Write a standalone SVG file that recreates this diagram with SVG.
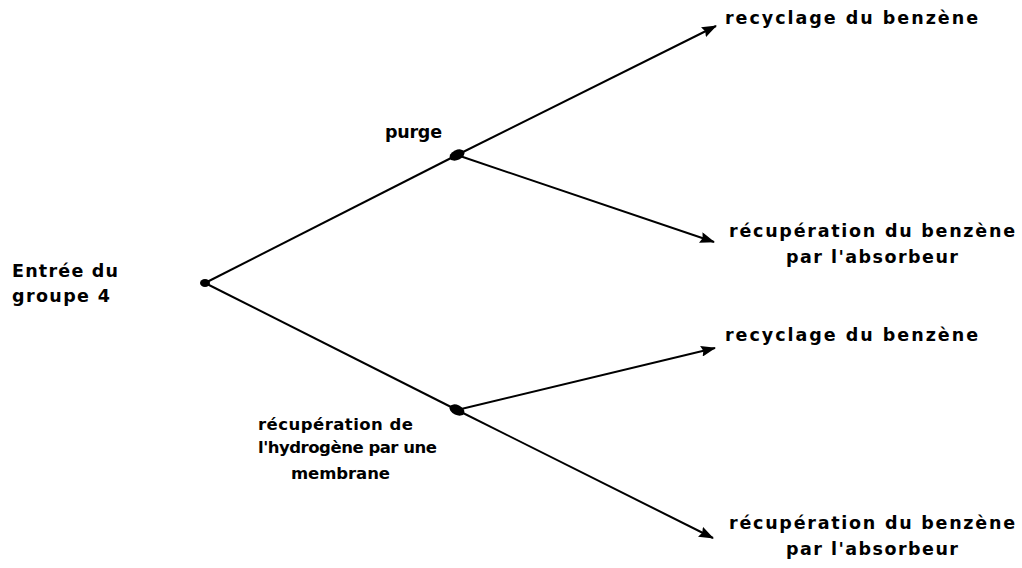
<svg xmlns="http://www.w3.org/2000/svg" width="1022" height="568" viewBox="0 0 1022 568">
<defs>
<style>
.t{font-family:"DejaVu Sans","Liberation Sans",sans-serif;font-weight:bold;font-size:17.5px;fill:#000}
.s{font-size:16.5px}
.c{stroke:#000;stroke-width:2;fill:none}
</style>
<marker id="ah" markerWidth="15" markerHeight="11" refX="14" refY="5.5" orient="auto" markerUnits="userSpaceOnUse">
<path d="M0,0 L15,5.5 L0,11 L2,5.5 Z" fill="#000"/>
</marker>
</defs>
<rect width="1022" height="568" fill="#fff"/>
<g id="connectors">
<line class="c" x1="205" y1="283" x2="457" y2="155"/>
<line class="c" x1="205" y1="283" x2="457" y2="410"/>
<line class="c" x1="457" y1="155" x2="716" y2="26" marker-end="url(#ah)"/>
<line class="c" x1="457" y1="155" x2="714" y2="242" marker-end="url(#ah)"/>
<line class="c" x1="457" y1="410" x2="715" y2="348" marker-end="url(#ah)"/>
<line class="c" x1="457" y1="410" x2="713" y2="538" marker-end="url(#ah)"/>
</g>
<g id="root">
<ellipse cx="205" cy="283" rx="5" ry="4" fill="#000"/>
<text class="t" x="12" y="277" textLength="106" lengthAdjust="spacing">Entrée du</text>
<text class="t" x="12" y="302" textLength="98" lengthAdjust="spacing">groupe 4</text>
</g>
<g id="purge">
<ellipse cx="457" cy="155" rx="8" ry="5" transform="rotate(-25 457 155)" fill="#000"/>
<text class="t" x="385" y="138" textLength="57" lengthAdjust="spacing">purge</text>
</g>
<g id="membrane">
<ellipse cx="457" cy="410" rx="8" ry="5" transform="rotate(25 457 410)" fill="#000"/>
<text class="t s" x="258" y="430" textLength="155" lengthAdjust="spacing">récupération de</text>
<text class="t s" x="258" y="453" textLength="179" lengthAdjust="spacing">l'hydrogène par une</text>
<text class="t s" x="291" y="479" textLength="99" lengthAdjust="spacing">membrane</text>
</g>
<g id="recyclage1">
<text class="t" x="725" y="24" textLength="253" lengthAdjust="spacing">recyclage du benzène</text>
</g>
<g id="absorbeur1">
<text class="t" x="729" y="237" textLength="286" lengthAdjust="spacing">récupération du benzène</text>
<text class="t" x="786" y="263" textLength="172" lengthAdjust="spacing">par l'absorbeur</text>
</g>
<g id="recyclage2">
<text class="t" x="725" y="341" textLength="253" lengthAdjust="spacing">recyclage du benzène</text>
</g>
<g id="absorbeur2">
<text class="t" x="729" y="529" textLength="286" lengthAdjust="spacing">récupération du benzène</text>
<text class="t" x="786" y="555" textLength="172" lengthAdjust="spacing">par l'absorbeur</text>
</g>
</svg>
